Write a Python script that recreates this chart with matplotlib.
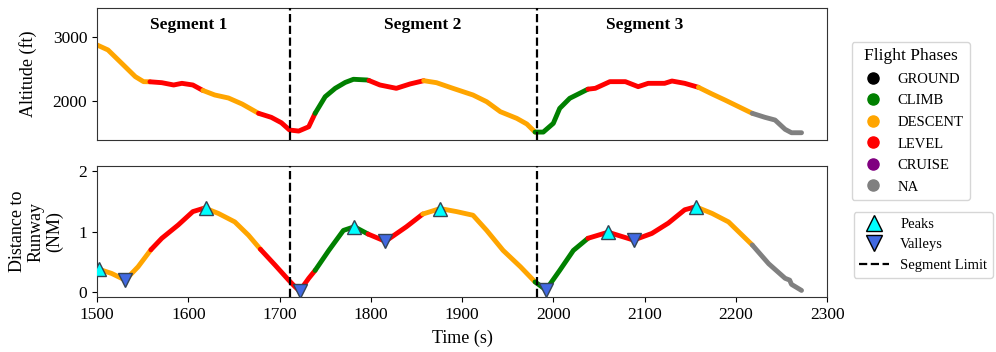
import matplotlib.pyplot as plt
from matplotlib.lines import Line2D

plt.rcParams['font.family'] = ['Liberation Serif', 'DejaVu Serif']

# ---- data ----
phase_colors = {"GROUND": "black", "CLIMB": "green", "DESCENT": "orange",
                "LEVEL": "red", "CRUISE": "purple", "NA": "gray"}

alt_t = [1500, 1512, 1527, 1542, 1551, 1558, 1571, 1584, 1593, 1605,
         1616, 1629, 1644, 1659, 1677, 1691, 1702, 1711, 1721, 1732,
         1739, 1750, 1761, 1772, 1781, 1796, 1798, 1810, 1828, 1843,
         1858, 1872, 1890, 1912, 1927, 1942, 1960, 1971, 1980, 1989,
         2000, 2007, 2018, 2038, 2046, 2062, 2079, 2093, 2104, 2122,
         2130, 2144, 2159, 2174, 2188, 2218, 2232, 2243, 2254, 2261, 2272]
alt_ft = [2875, 2797, 2589, 2380, 2302, 2300, 2286, 2250, 2276, 2250,
          2165, 2094, 2047, 1953, 1808, 1745, 1661, 1547, 1531, 1598,
          1808, 2067, 2198, 2290, 2339, 2328, 2320, 2250, 2198, 2266,
          2317, 2286, 2198, 2094, 1989, 1833, 1729, 1641, 1515, 1515,
          1651, 1885, 2042, 2185, 2198, 2302, 2302, 2224, 2276, 2276,
          2312, 2276, 2214, 2109, 2016, 1808, 1745, 1703, 1558, 1505, 1505]
alt_phase = ["DESCENT"] * 5 + ["LEVEL"] * 5 + ["DESCENT"] * 4 + ["LEVEL"] * 6 \
    + ["CLIMB"] * 6 + ["LEVEL"] * 4 + ["DESCENT"] * 8 + ["CLIMB"] * 5 \
    + ["LEVEL"] * 9 + ["DESCENT"] * 3 + ["NA"] * 6

dist_t = [1502, 1516, 1531, 1545, 1559, 1571, 1589, 1605, 1618, 1633,
          1651, 1666, 1679, 1695, 1710, 1717, 1722, 1732, 1739, 1754,
          1770, 1782, 1797, 1816, 1839, 1857, 1876, 1894, 1912, 1927,
          1945, 1964, 1980, 1992, 2007, 2022, 2038, 2060, 2088, 2108,
          2126, 2144, 2156, 2174, 2192, 2218, 2236, 2254, 2259, 2261, 2272]
dist_nm = [0.38, 0.31, 0.20, 0.42, 0.70, 0.89, 1.11, 1.33, 1.39, 1.30,
           1.16, 0.94, 0.71, 0.45, 0.20, 0.09, 0.02, 0.23, 0.36, 0.69,
           1.02, 1.08, 0.96, 0.84, 1.08, 1.29, 1.38, 1.33, 1.27, 1.02,
           0.69, 0.42, 0.17, 0.04, 0.36, 0.69, 0.89, 0.99, 0.86, 0.97,
           1.14, 1.36, 1.41, 1.30, 1.16, 0.78, 0.47, 0.23, 0.20, 0.13, 0.03]
dist_phase = ["DESCENT"] * 4 + ["LEVEL"] * 4 + ["DESCENT"] * 4 + ["LEVEL"] * 6 \
    + ["CLIMB"] * 4 + ["LEVEL"] * 3 + ["DESCENT"] * 7 + ["CLIMB"] * 4 \
    + ["LEVEL"] * 6 + ["DESCENT"] * 3 + ["NA"] * 6

peak_t = [1502, 1619, 1782, 1876, 2060, 2156]
peak_nm = [0.38, 1.39, 1.07, 1.38, 0.99, 1.41]
valley_t = [1531, 1722, 1816, 1992, 2088]
valley_nm = [0.20, 0.02, 0.84, 0.04, 0.86]

segment_limits = [1712, 1982]
segment_names = ["Segment 1", "Segment 2", "Segment 3"]
segment_label_t = [1600, 1857, 2100]


def draw_phases(ax, t, y, phases):
    # one line per run of the same phase, joined to the next point
    i = 0
    n = len(t)
    while i < n - 1:
        j = i
        while j + 1 < n - 1 and phases[j + 1] == phases[i]:
            j += 1
        ax.plot(t[i:j + 2], y[i:j + 2], color=phase_colors[phases[i]],
                lw=3.5, solid_capstyle='round', solid_joinstyle='round', zorder=2)
        i = j + 1


fig = plt.figure(figsize=(9.96, 3.52), dpi=100)
ax1 = fig.add_axes([0.0974, 0.602, 0.733, 0.375])
ax2 = fig.add_axes([0.0974, 0.156, 0.733, 0.372])

draw_phases(ax1, alt_t, alt_ft, alt_phase)
draw_phases(ax2, dist_t, dist_nm, dist_phase)

ax2.plot(peak_t, peak_nm, '^', color='cyan', markeredgecolor='#334455',
         markersize=9.5, zorder=4, linestyle='none')
ax2.plot(valley_t, valley_nm, 'v', color='royalblue', markeredgecolor='#334455',
         markersize=9.5, zorder=4, linestyle='none')

for ax in (ax1, ax2):
    for s in segment_limits:
        ax.axvline(s, color='black', linestyle='--', lw=1.6, zorder=3)
    ax.set_xlim(1500, 2300)
    ax.tick_params(labelsize=12.5)
    for sp in ax.spines.values():
        sp.set_color('#333333')

for name, tx in zip(segment_names, segment_label_t):
    ax1.text(tx, 3190, name, ha='center', va='center', fontsize=12.5,
             fontweight='bold')

ax1.set_ylim(1390, 3450)
ax1.set_yticks([2000, 3000])
ax1.set_xticks([])
ax1.set_ylabel("Altitude (ft)", fontsize=13)

ax2.set_ylim(-0.08, 2.08)
ax2.set_yticks([0, 1, 2])
ax2.set_xticks(range(1500, 2301, 100))
ax2.set_xlabel("Time (s)", fontsize=13, labelpad=5)
ax2.set_ylabel("Distance to\nRunway\n(NM)", fontsize=13, linespacing=1.1)
ax1.yaxis.set_label_coords(-0.082, 0.5)
ax2.yaxis.set_label_coords(-0.046, 0.5)

phase_handles = [Line2D([], [], marker='o', linestyle='none', color=c,
                        markersize=8, label=p) for p, c in phase_colors.items()]
fig.legend(handles=phase_handles, title="Flight Phases", loc='upper left',
           bbox_to_anchor=(0.855, 0.881), borderaxespad=0, fontsize=10.5,
           title_fontsize=12.5, handletextpad=0.7, labelspacing=0.57,
           borderpad=0.45)

mark_handles = [
    Line2D([], [], marker='^', linestyle='none', color='cyan',
           markeredgecolor='black', markersize=11, label="Peaks"),
    Line2D([], [], marker='v', linestyle='none', color='royalblue',
           markeredgecolor='black', markersize=11, label="Valleys"),
    Line2D([], [], color='black', linestyle='--', lw=1.6, label="Segment Limit"),
]
fig.legend(handles=mark_handles, loc='upper left', bbox_to_anchor=(0.857, 0.398),
           borderaxespad=0, fontsize=10.5, labelspacing=0.5, borderpad=0.4,
           handletextpad=0.8)

fig.savefig("out.png", dpi=100)
